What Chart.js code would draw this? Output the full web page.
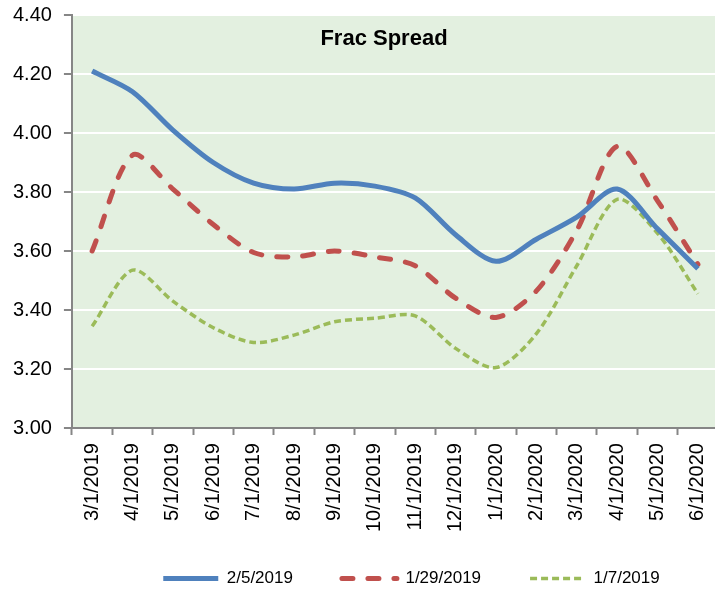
<!DOCTYPE html>
<html>
<head>
<meta charset="utf-8">
<script src="https://cdn.jsdelivr.net/npm/chart.js@4"></script>
<style>
  html, body { margin: 0; padding: 0; background: #fff; overflow: hidden; }
  #wrap { width: 730px; height: 606px; margin-top: -9px; }
</style>
</head>
<body>
<div id="wrap"><canvas id="myChart" width="730" height="606"></canvas></div>
<script>
// Chart data.
const months = ['3/1/2019', '4/1/2019', '5/1/2019', '6/1/2019', '7/1/2019', '8/1/2019',
    '9/1/2019', '10/1/2019', '11/1/2019', '12/1/2019', '1/1/2020', '2/1/2020',
    '3/1/2020', '4/1/2020', '5/1/2020', '6/1/2020'];
const spreadFeb5 = [4.21, 4.14, 4.01, 3.90, 3.83, 3.81, 3.83, 3.82, 3.78, 3.655, 3.565, 3.64, 3.715, 3.81, 3.675, 3.54];
const spreadJan29 = [3.60, 3.925, 3.81, 3.69, 3.595, 3.58, 3.60, 3.58, 3.55, 3.44, 3.375, 3.465, 3.67, 3.955, 3.77, 3.555];
const spreadJan7 = [3.345, 3.535, 3.43, 3.34, 3.29, 3.315, 3.36, 3.372, 3.38, 3.27, 3.205, 3.32, 3.55, 3.775, 3.66, 3.455];
const yTicks = ['3.00', '3.20', '3.40', '3.60', '3.80', '4.00', '4.20', '4.40'];

const font = '"Liberation Sans", Arial, sans-serif';
const legendTrim = 19;

// Light green plot background, the title inside the plot, legend placement.
const plotDecor = {
    id: 'plotDecor',
    beforeLayout(chart) {
        const lg = chart.legend;
        if (lg && !lg._trimmed) {
            const fit = lg.fit;
            lg.fit = function () {
                fit.call(this);
                this.height -= legendTrim;
            };
            lg._trimmed = true;
        }
    },
    afterLayout(chart) {
        // the legend keeps its bottom edge, its items move back up
        const lg = chart.legend;
        lg.left += 47;
        lg.right += 47;
        lg.top -= legendTrim;
    },
    beforeDraw(chart) {
        const { ctx, chartArea: a } = chart;
        ctx.save();
        ctx.fillStyle = '#E3F0E0';
        ctx.fillRect(a.left, a.top, a.right - a.left, a.bottom - a.top);
        ctx.restore();
    },
    afterDatasetsDraw(chart) {
        const { ctx, chartArea: a } = chart;
        ctx.save();
        ctx.font = 'bold 22px ' + font;
        ctx.fillStyle = '#000';
        ctx.textAlign = 'center';
        ctx.textBaseline = 'middle';
        ctx.fillText('Frac Spread', 384, a.top + 24);
        ctx.restore();
    }
};

const ctx = document.getElementById('myChart').getContext('2d');
const chart = new Chart(ctx, {
    type: 'line',
    data: {
        labels: months,
        datasets: [{
            label: '2/5/2019',
            data: spreadFeb5,
            borderColor: '#4F81BD',
            backgroundColor: '#4F81BD',
            borderWidth: 5,
            tension: 0.3,
            pointRadius: 0
        }, {
            label: '1/29/2019',
            data: spreadJan29,
            borderColor: '#C0504D',
            backgroundColor: '#C0504D',
            borderWidth: 5,
            borderDash: [11, 15],
            borderCapStyle: 'round',
            tension: 0.3,
            pointRadius: 0
        }, {
            label: '1/7/2019',
            data: spreadJan7,
            borderColor: '#9BBB59',
            backgroundColor: '#9BBB59',
            borderWidth: 3.5,
            borderDash: [7, 4],
            tension: 0.3,
            pointRadius: 0
        }]
    },
    options: {
        responsive: false,
        animation: false,
        layout: {
            padding: { left: 1, right: 2, top: 0, bottom: 0 }
        },
        plugins: {
            legend: {
                position: 'bottom',
                labels: {
                    usePointStyle: true,
                    pointStyle: 'line',
                    pointStyleWidth: 55,
                    padding: 49,
                    color: '#000',
                    font: { family: font, size: 17 },
                    generateLabels(chart) {
                        const items = Chart.defaults.plugins.legend.labels.generateLabels(chart);
                        items.forEach((it, i) => {
                            const ds = chart.data.datasets[i];
                            it.lineDash = ds.borderDash || [];
                            it.lineCap = ds.borderCapStyle || 'butt';
                            it.lineWidth = ds.borderWidth;
                        });
                        return items;
                    }
                }
            },
            title: { display: false },
            tooltip: { enabled: false }
        },
        scales: {
            x: {
                offset: true,
                grid: {
                    offset: true,
                    drawOnChartArea: false,
                    drawTicks: true,
                    tickLength: 7,
                    tickColor: '#868686',
                    tickWidth: 2
                },
                border: { color: '#868686', width: 2 },
                ticks: {
                    color: '#000',
                    font: { family: font, size: 20 },
                    minRotation: 90,
                    maxRotation: 90,
                    autoSkip: false,
                    padding: 8
                }
            },
            y: {
                min: 3.0,
                max: 4.4,
                grid: {
                    color: '#FFFFFF',
                    lineWidth: 2,
                    tickColor: '#868686',
                    tickLength: 8,
                    tickWidth: 2
                },
                border: { color: '#868686', width: 2 },
                ticks: {
                    stepSize: 0.2,
                    color: '#000',
                    padding: 12,
                    font: { family: font, size: 20 },
                    callback: (v, i) => yTicks[i]
                }
            }
        }
    },
    plugins: [plotDecor]
});
</script>
</body>
</html>
